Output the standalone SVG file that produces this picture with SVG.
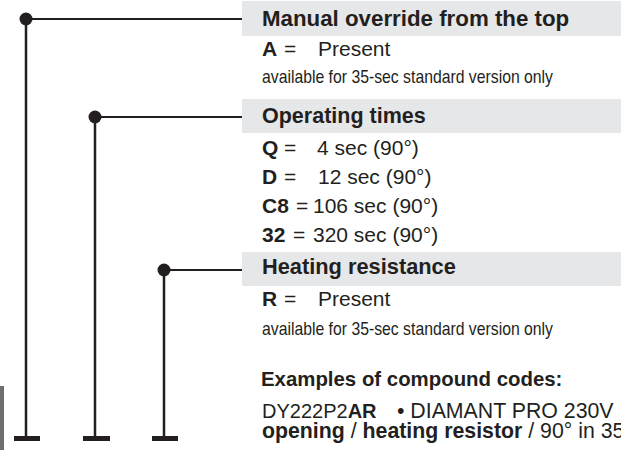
<svg xmlns="http://www.w3.org/2000/svg" width="621" height="450" viewBox="0 0 621 450">
<style>
text{font-family:"Liberation Sans",Arial,sans-serif;fill:#231f20}
.h{font-weight:bold;font-size:21.8px}
.t{font-size:21px}
.b{font-weight:bold}
.s{font-family:"Liberation Sans Narrow","Liberation Sans",Arial,sans-serif;font-size:19px}
.band{fill:#e6e7e8}
.ln{stroke:#231f20;fill:none}
.dot{fill:#231f20}
.foot{fill:#231f20}
</style>
<rect x="0" y="386" width="4" height="64" fill="#6d6e71"/>
<g id="connectors">
<path class="ln" stroke-width="2" d="M26 19H243M95 117H243M164 270H243"/>
<path class="ln" stroke-width="2.5" d="M26 19V437M95 117V437M164 270V437"/>
<circle class="dot" cx="26" cy="19" r="6.5"/>
<circle class="dot" cx="95" cy="117" r="6.5"/>
<circle class="dot" cx="164" cy="270" r="6.5"/>
<rect class="foot" x="14" y="436" width="26" height="5"/>
<rect class="foot" x="83" y="436" width="27" height="5"/>
<rect class="foot" x="152" y="436" width="26" height="5"/>
</g>
<g id="manual-override">
<rect class="band" x="242" y="1" width="379" height="35"/>
<text class="h" x="262" y="26" style="font-size:22.3px">Manual override from the top</text>
<text class="t" y="56"><tspan class="b" x="262">A</tspan><tspan x="284">=</tspan><tspan x="318">Present</tspan></text>
<text class="s" x="262" y="83" textLength="291" lengthAdjust="spacingAndGlyphs">available for 35-sec standard version only</text>
</g>
<g id="operating-times">
<rect class="band" x="242" y="99" width="379" height="34"/>
<text class="h" x="262" y="123" style="font-size:21.5px">Operating times</text>
<text class="t" y="155"><tspan class="b" x="262">Q</tspan><tspan x="284">=</tspan><tspan x="317">4 sec (90°)</tspan></text>
<text class="t" y="183.5"><tspan class="b" x="262">D</tspan><tspan x="284">=</tspan><tspan x="318">12 sec (90°)</tspan></text>
<text class="t" y="213"><tspan class="b" x="262">C8</tspan><tspan x="296">=</tspan><tspan x="313">106 sec (90°)</tspan></text>
<text class="t" y="241.5"><tspan class="b" x="262">32</tspan><tspan x="293">=</tspan><tspan x="313">320 sec (90°)</tspan></text>
</g>
<g id="heating-resistance">
<rect class="band" x="242" y="252" width="379" height="34"/>
<text class="h" x="262" y="274">Heating resistance</text>
<text class="t" y="306"><tspan class="b" x="262">R</tspan><tspan x="284">=</tspan><tspan x="318">Present</tspan></text>
<text class="s" x="262" y="335" textLength="291" lengthAdjust="spacingAndGlyphs">available for 35-sec standard version only</text>
</g>
<g id="examples">
<text class="b" x="261" y="386" style="font-size:20.4px">Examples of compound codes:</text>
<text class="t" y="418"><tspan x="262" style="font-size:20px">DY222P2</tspan><tspan class="b" style="font-size:20px">AR</tspan><tspan x="397" style="font-size:21.3px">• DIAMANT PRO 230V</tspan></text>
<text class="t" x="262" y="438" style="font-size:21.3px"><tspan class="b">opening</tspan> / <tspan class="b">heating resistor</tspan> / 90° in 35</text>
</g>
</svg>
